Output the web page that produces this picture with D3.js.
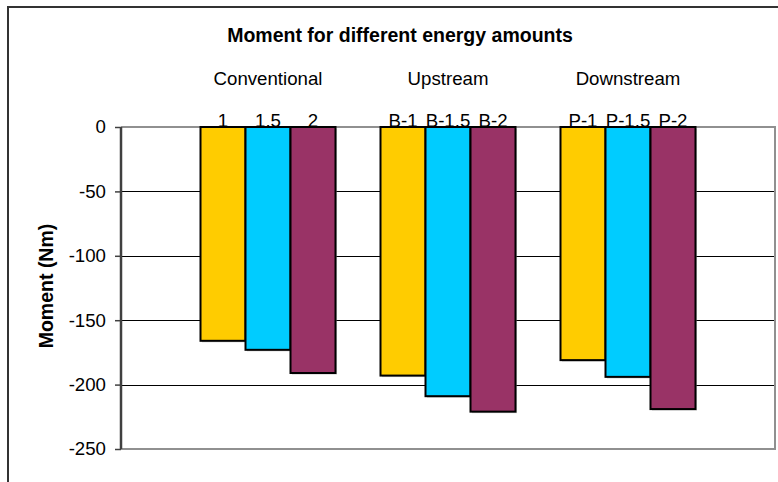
<!DOCTYPE html>
<html>
<head>
<meta charset="utf-8">
<script src="https://cdn.jsdelivr.net/npm/d3@7"></script>
<style>
  html, body { margin: 0; padding: 0; background: #fff; }
  svg { display: block; }
  text { font-family: Arial, "Liberation Sans", sans-serif; }
</style>
</head>
<body>
<svg id="chart" width="778" height="482"></svg>
<script>
// ---- data ----
const titleText = "Moment for different energy amounts";
const yLabel = "Moment (Nm)";
const groups = ["Conventional", "Upstream", "Downstream"];
const seriesKeys = ["e1", "e15", "e2"];
const barLabels = [
  ["1", "1.5", "2"],
  ["B-1", "B-1.5", "B-2"],
  ["P-1", "P-1.5", "P-2"]
];
const energy1 = [-166, -193, -181];
const energy15 = [-173, -209, -194];
const energy2 = [-191, -221, -219];
const yTicks = [0, -50, -100, -150, -200, -250];
const colors = ["#FFCC00", "#00CCFF", "#993366"];

// ---- layout ----
const svg = d3.select("#chart");
const plot = { left: 121, right: 775, top: 127, bottom: 449 };

const x0 = d3.scaleBand()
  .domain(groups)
  .range([plot.left, plot.right])
  .paddingInner(0.25)
  .paddingOuter(0.4417);
const x1 = d3.scaleBand()
  .domain(seriesKeys)
  .range([0, x0.bandwidth()])
  .padding(0);
const y = d3.scaleLinear().domain([-250, 0]).range([plot.bottom, plot.top]);
const color = d3.scaleOrdinal().domain(seriesKeys).range(colors);

const seriesValues = { e1: energy1, e15: energy15, e2: energy2 };
const rows = groups.map((g, i) => ({
  group: g,
  bars: seriesKeys.map((k, j) => ({ key: k, value: seriesValues[k][i], label: barLabels[i][j] }))
}));

// outer frame
svg.append("rect")
  .attr("x", 8).attr("y", 7)
  .attr("width", 820).attr("height", 520)
  .attr("fill", "none").attr("stroke", "#333").attr("stroke-width", 2);

// gridlines
svg.append("g")
  .selectAll("line")
  .data(yTicks.filter(d => d !== 0 && d !== -250))
  .join("line")
  .attr("x1", plot.left).attr("x2", plot.right)
  .attr("y1", d => Math.round(y(d)) + 0.5).attr("y2", d => Math.round(y(d)) + 0.5)
  .attr("stroke", "#000").attr("stroke-width", 1);

// plot area border (top, right, bottom)
svg.append("path")
  .attr("d", `M${plot.left},${plot.top}H${plot.right}V${plot.bottom}H${plot.left}`)
  .attr("fill", "none").attr("stroke", "#909090").attr("stroke-width", 2);

// bars
const gGroups = svg.append("g")
  .selectAll("g")
  .data(rows)
  .join("g")
  .attr("transform", d => `translate(${x0(d.group)},0)`);

gGroups.selectAll("rect.shadow")
  .data(d => d.bars)
  .join("rect")
  .attr("class", "shadow")
  .attr("x", d => x1(d.key) + 1.5)
  .attr("y", d => y(0) + 1.5)
  .attr("width", x1.bandwidth())
  .attr("height", d => y(d.value) - y(0))
  .attr("fill", "#999").attr("opacity", 0.5);

gGroups.selectAll("rect.bar")
  .data(d => d.bars)
  .join("rect")
  .attr("class", "bar")
  .attr("x", d => x1(d.key))
  .attr("y", d => y(0))
  .attr("width", x1.bandwidth())
  .attr("height", d => y(d.value) - y(0))
  .attr("fill", d => color(d.key))
  .attr("stroke", "#000").attr("stroke-width", 2);

// bar labels
gGroups.selectAll("text.blabel")
  .data(d => d.bars)
  .join("text")
  .attr("class", "blabel")
  .attr("x", d => x1(d.key) + x1.bandwidth() / 2)
  .attr("y", y(0))
  .attr("text-anchor", "middle")
  .attr("font-size", "18.67px")
  .attr("fill", "#000")
  .text(d => d.label);

// group labels
svg.append("g")
  .selectAll("text")
  .data(groups)
  .join("text")
  .attr("x", d => x0(d) + x0.bandwidth() / 2)
  .attr("y", 85)
  .attr("text-anchor", "middle")
  .attr("font-size", "18.67px")
  .attr("fill", "#000")
  .text(d => d);

// y axis
const yAxis = d3.axisLeft(y)
  .tickValues(yTicks)
  .tickSize(6)
  .tickPadding(9)
  .tickFormat(d => String(d));
const ga = svg.append("g")
  .attr("transform", `translate(${plot.left},0)`)
  .call(yAxis);
ga.select(".domain").attr("stroke", "#404040").attr("stroke-width", 2.5)
  .attr("d", `M0,${plot.top}V${plot.bottom}`);
ga.selectAll(".tick line").attr("stroke", "#404040").attr("stroke-width", 1.5);
ga.selectAll(".tick text")
  .attr("font-family", "Arial, 'Liberation Sans', sans-serif")
  .attr("font-size", "18.67px")
  .attr("fill", "#000");

// y label
svg.append("text")
  .attr("transform", `translate(53,${(plot.top + plot.bottom) / 2 - 2}) rotate(-90)`)
  .attr("text-anchor", "middle")
  .attr("font-size", "19.5px")
  .attr("font-weight", "bold")
  .attr("fill", "#000")
  .text(yLabel);

// title
svg.append("text")
  .attr("x", 400)
  .attr("y", 41.5)
  .attr("text-anchor", "middle")
  .attr("font-size", "19.5px")
  .attr("font-weight", "bold")
  .attr("fill", "#000")
  .text(titleText);
</script>
</body>
</html>
